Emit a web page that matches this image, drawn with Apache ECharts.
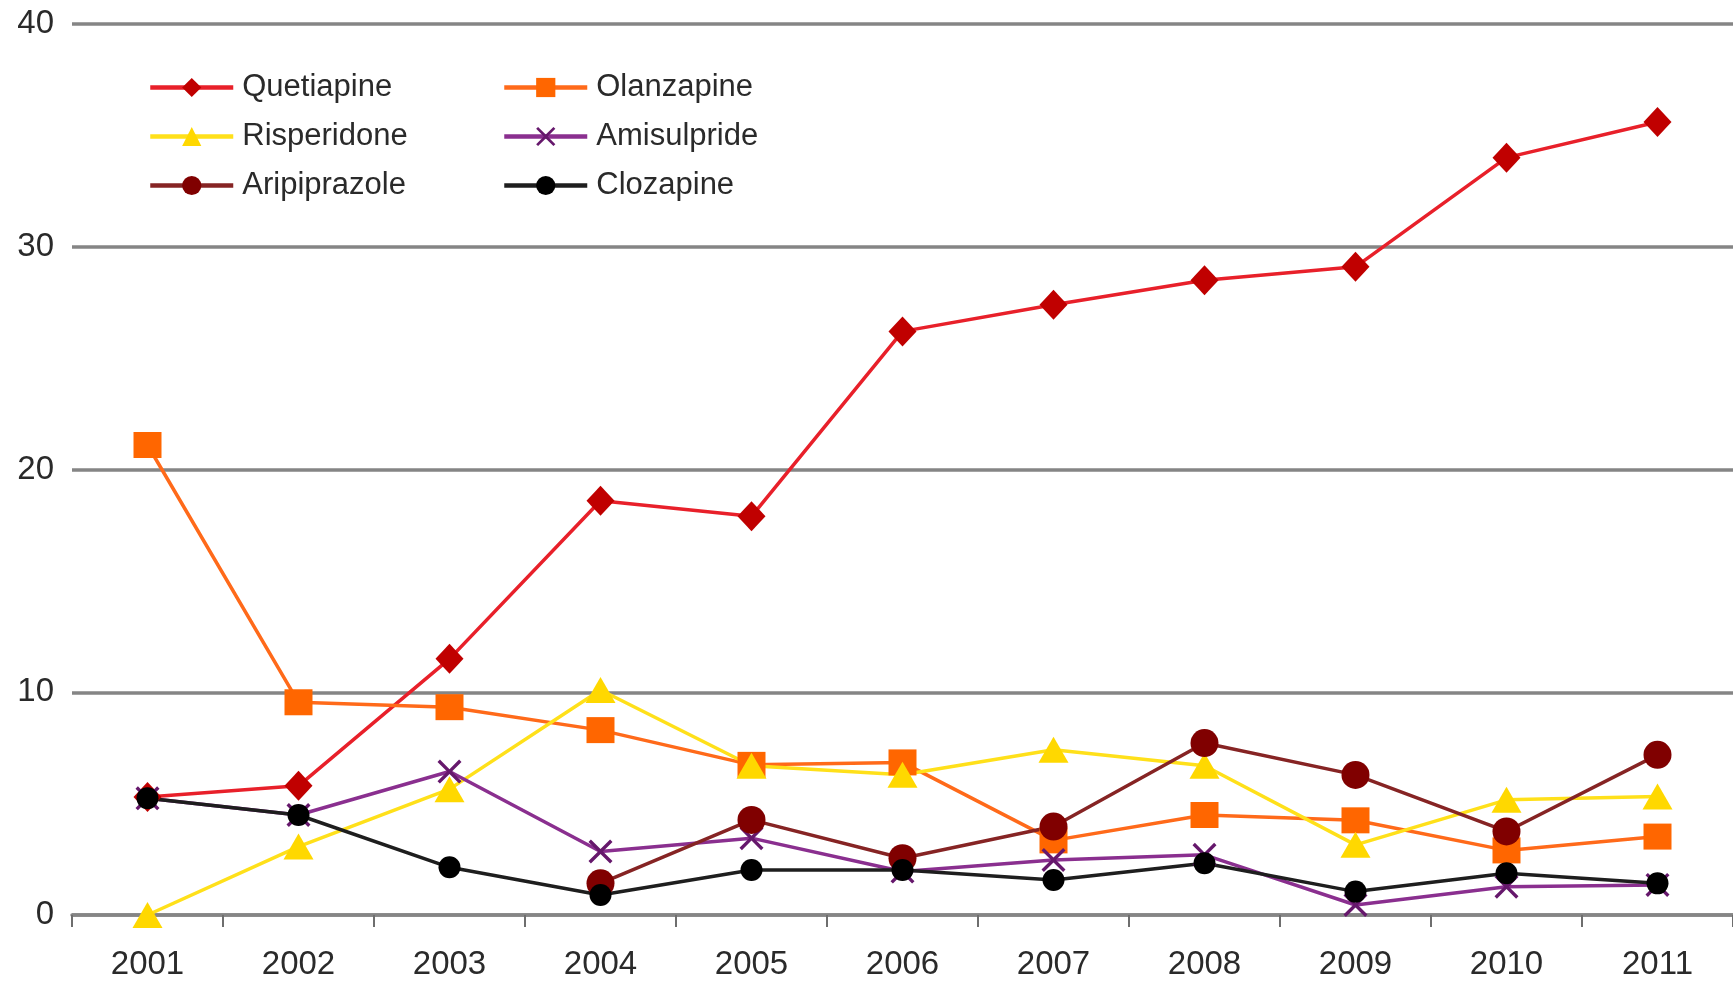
<!DOCTYPE html>
<html>
<head>
<meta charset="utf-8">
<script src="https://cdn.jsdelivr.net/npm/echarts@6/dist/echarts.min.js"></script>
<style>
  html, body { margin: 0; padding: 0; background: #fff; }
  #chart { width: 1733px; height: 981px; }
</style>
</head>
<body>
<div id="chart"></div>
<script>
// Years on the horizontal axis
const years = ['2001', '2002', '2003', '2004', '2005', '2006', '2007', '2008', '2009', '2010', '2011'];

// Share per antipsychotic, by year
const quetiapine   = [5.3, 5.8, 11.5, 18.6, 17.9, 26.2, 27.4, 28.5, 29.1, 34.0, 35.6];
const olanzapine   = [21.1, 9.55, 9.33, 8.3, 6.74, 6.85, 3.35, 4.49, 4.25, 2.9, 3.52];
const risperidone  = [0, 3.07, 5.65, 10.1, 6.7, 6.3, 7.42, 6.7, 3.15, 5.17, 5.32];
const amisulpride  = [5.24, 4.49, 6.44, 2.85, 3.45, 1.95, 2.47, 2.7, 0.45, 1.27, 1.35];
const aripiprazole = [null, null, null, 1.42, 4.27, 2.55, 3.97, 7.72, 6.29, 3.75, 7.19];
const clozapine    = [5.24, 4.49, 2.14, 0.9, 2.02, 2.02, 1.57, 2.32, 1.05, 1.87, 1.42];

// Y axis range and step
const yMin = 0, yMax = 40, yStep = 10;

const crossPath = 'path://M0,1L1,0L5,4L9,0L10,1L6,5L10,9L9,10L5,6L1,10L0,9L4,5Z';

function lineSeries(name, data, lineColor, markColor, symbol, size) {
  return {
    name: name,
    type: 'line',
    data: data,
    symbol: symbol,
    symbolSize: size,
    showAllSymbol: true,
    connectNulls: false,
    lineStyle: { color: lineColor, width: 3.5 },
    itemStyle: { color: markColor, borderWidth: 0 },
    emphasis: { disabled: true },
    animation: false
  };
}

const FONT = 'Liberation Sans, Arial, sans-serif';

const legendCommon = {
  orient: 'vertical',
  itemWidth: 83,
  itemHeight: 24,
  itemGap: 18,
  lineStyle: { width: 4.5 },
  textStyle: { fontFamily: FONT, fontSize: 31, color: '#2a2a2a', padding: [0, 0, 0, 4] },
  selectedMode: false
};

const chart = echarts.init(document.getElementById('chart'), null, { renderer: 'canvas' });
chart.setOption({
  backgroundColor: '#fff',
  animation: false,
  grid: { left: 72, right: 0, top: 24, bottom: 66, containLabel: false },
  legend: [
    Object.assign({ left: 143, top: 67, data: ['Quetiapine', 'Risperidone', 'Aripiprazole'] }, legendCommon),
    Object.assign({ left: 497, top: 67, data: ['Olanzapine', 'Amisulpride', 'Clozapine'] }, legendCommon)
  ],
  xAxis: {
    type: 'category',
    data: years,
    boundaryGap: true,
    axisLine: { lineStyle: { color: '#858585', width: 3.5 } },
    axisTick: { show: true, length: 12, inside: false, lineStyle: { color: '#6e6e6e', width: 2 } },
    axisLabel: { fontFamily: FONT, fontSize: 33, color: '#2a2a2a', margin: 33 },
    splitLine: { show: false }
  },
  yAxis: {
    type: 'value',
    min: yMin,
    max: yMax,
    interval: yStep,
    axisLine: { show: false },
    axisTick: { show: false },
    axisLabel: { fontFamily: FONT, fontSize: 33, color: '#2a2a2a', margin: 18 },
    splitLine: { lineStyle: { color: '#858585', width: 3.5 } }
  },
  series: [
    lineSeries('Quetiapine', quetiapine, '#e8202a', '#c00000', 'diamond', [28, 30]),
    lineSeries('Olanzapine', olanzapine, '#ff6a1a', '#ff6600', 'rect', [28, 26]),
    lineSeries('Risperidone', risperidone, '#ffe01a', '#ffd800', 'triangle', [30, 26]),
    lineSeries('Amisulpride', amisulpride, '#8a2f8f', '#66186c', crossPath, [24, 24]),
    lineSeries('Aripiprazole', aripiprazole, '#862424', '#800000', 'circle', [28, 28]),
    lineSeries('Clozapine', clozapine, '#1e1e1e', '#000000', 'circle', [22, 22])
  ]
});
</script>
</body>
</html>
